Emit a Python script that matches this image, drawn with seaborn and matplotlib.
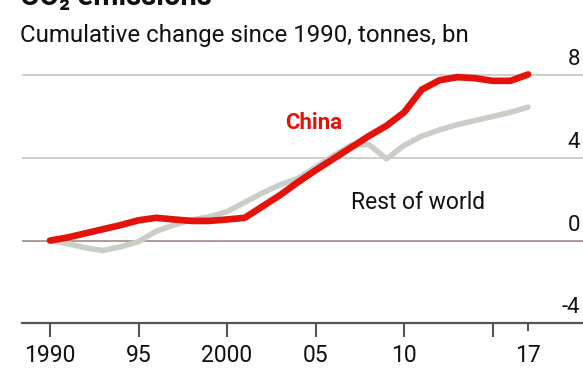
import matplotlib
matplotlib.use("Agg")
import matplotlib.pyplot as plt
from matplotlib.ticker import FixedLocator, FixedFormatter
import seaborn as sns

# Data (cumulative change since 1990, tonnes bn)
years = list(range(1990, 2018))
china = [0.0, 0.15, 0.35, 0.55, 0.75, 0.98, 1.1, 1.02, 0.95, 0.95,
         1.02, 1.1, 1.65, 2.2, 2.82, 3.4, 3.95, 4.5, 5.05, 5.55,
         6.2, 7.3, 7.75, 7.9, 7.85, 7.72, 7.72, 8.03]
rest_of_world = [0.0, -0.15, -0.35, -0.48, -0.3, -0.05, 0.45, 0.75, 1.0, 1.15,
                 1.4, 1.85, 2.3, 2.7, 3.0, 3.55, 4.1, 4.6, 4.65, 3.95,
                 4.6, 5.05, 5.35, 5.6, 5.8, 6.0, 6.2, 6.45]

y_ticks = [-4, 0, 4, 8]
y_labels = ["-4", "0", "4", "8"]
x_major = [1990, 1995, 2000, 2005, 2010, 2015]
x_major_labels = ["1990", "95", "2000", "05", "10", ""]
x_minor = [2017]
x_minor_labels = ["17"]

RED = "#e3120b"
GREY_LINE = "#c9cfc7"

sns.set_style("white")
plt.rcParams["font.family"] = ["Roboto", "DejaVu Sans"]

fig = plt.figure(figsize=(5.83, 3.68), dpi=100)
ax = fig.add_axes([22 / 583, 1 - 323.3 / 368, 561 / 583, (323.3 - 60.6) / 368])

# gridlines
for v in y_ticks[1:]:
    if v == 0:
        ax.axhline(v, color="#a8948f", lw=1.3, zorder=1)
    else:
        ax.axhline(v, color="#cccccc", lw=1.3, zorder=1)

sns.lineplot(x=years, y=rest_of_world, ax=ax, color=GREY_LINE, lw=4.0, zorder=2)
sns.lineplot(x=years, y=china, ax=ax, color=RED, lw=4.8, zorder=3)

ax.set_xlim(1988.42, 2020.1)
ax.set_ylim(-4, 8.7)

for s in ["left", "right", "top"]:
    ax.spines[s].set_visible(False)
ax.spines["bottom"].set_color("#555555")
ax.spines["bottom"].set_linewidth(1.6)

ax.set_yticks([])
for v, lab in zip(y_ticks, y_labels):
    ax.annotate(lab, xy=(1, v), xycoords=("axes fraction", "data"),
                xytext=(-3, 5), textcoords="offset pixels",
                ha="right", va="bottom", fontsize=16, color="#111111")

ax.xaxis.set_major_locator(FixedLocator(x_major))
ax.xaxis.set_major_formatter(FixedFormatter(x_major_labels))
ax.xaxis.set_minor_locator(FixedLocator(x_minor))
ax.xaxis.set_minor_formatter(FixedFormatter(x_minor_labels))
ax.tick_params(axis="x", which="major", direction="out", length=10, width=1.5,
               color="#555555", pad=5, labelsize=16.5, labelcolor="#111111", bottom=True)
ax.tick_params(axis="x", which="minor", direction="out", length=6, width=1.5,
               color="#555555", pad=9, labelsize=16.5, labelcolor="#111111", bottom=True)

ax.text(2004.9, 5.69, "China", color=RED, fontsize=16, fontweight="bold",
        ha="center", va="center")
ax.text(2010.8, 1.82, "Rest of world", color="#111111", fontsize=16.5,
        ha="center", va="center")

fig.text(20 / 583, 1 - 5 / 368, "CO\u2082 emissions", fontsize=21, fontweight="bold",
         ha="left", va="baseline", color="#111111")
fig.text(20 / 583, 1 - 41.6 / 368, "Cumulative change since 1990, tonnes, bn",
         fontsize=17.3, ha="left", va="baseline", color="#111111")

fig.savefig("out.png", dpi=100)
